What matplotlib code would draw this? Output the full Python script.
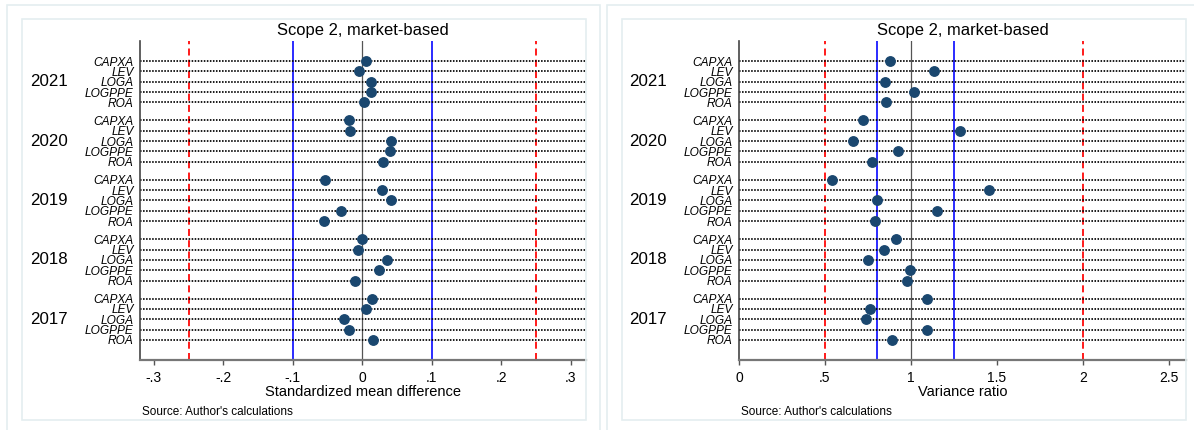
import matplotlib
matplotlib.use('Agg')
import matplotlib.pyplot as plt
from matplotlib.patches import Rectangle

plt.rcParams['font.family'] = 'Liberation Sans'

# Data
years = ['2021', '2020', '2019', '2018', '2017']
variables = ['CAPXA', 'LEV', 'LOGA', 'LOGPPE', 'ROA']

# Standardized mean difference, per year (order of variables)
smd_2021 = [0.006, -0.005, 0.013, 0.013, 0.002]
smd_2020 = [-0.019, -0.017, 0.041, 0.040, 0.030]
smd_2019 = [-0.053, 0.028, 0.042, -0.031, -0.055]
smd_2018 = [-0.001, -0.006, 0.036, 0.024, -0.010]
smd_2017 = [0.014, 0.006, -0.026, -0.019, 0.016]

# Variance ratio, per year
vr_2021 = [0.881, 1.134, 0.848, 1.018, 0.855]
vr_2020 = [0.722, 1.284, 0.663, 0.923, 0.775]
vr_2019 = [0.540, 1.452, 0.802, 1.154, 0.793]
vr_2018 = [0.914, 0.846, 0.749, 0.996, 0.980]
vr_2017 = [1.095, 0.760, 0.740, 1.095, 0.892]

smd_ticks = [-0.3, -0.2, -0.1, 0, 0.1, 0.2, 0.3]
smd_ticklabels = ['-.3', '-.2', '-.1', '0', '.1', '.2', '.3']
vr_ticks = [0, 0.5, 1, 1.5, 2, 2.5]
vr_ticklabels = ['0', '.5', '1', '1.5', '2', '2.5']

# Figure in pixel terms
W, H = 1194, 430
fig = plt.figure(figsize=(W / 100, H / 100), dpi=100)


def fx(px):
    return px / W


def fy(py):
    return 1 - py / H


# light frames (Stata graph region look)
frame_col = '#e4eef0'
for (x0, y0, x1, y1) in [(7, 5, 600, 440), (22, 19, 586, 420),
                         (607, 5, 1210, 440), (622, 19, 1186, 420)]:
    fig.patches.append(Rectangle((fx(x0), fy(y1)), fx(x1) - fx(x0), fy(y0) - fy(y1),
                                 transform=fig.transFigure, fill=False,
                                 edgecolor=frame_col, linewidth=1.2))

group_gap = 5.75
ypos = [[g * group_gap + j for j in range(len(variables))] for g in range(len(years))]
ymax = ypos[-1][-1]


def panel(left, right, values, xlim, ticks, ticklabels, ref_red, ref_blue, center, xlabel):
    ax = fig.add_axes([fx(left), fy(360), fx(right) - fx(left), (360 - 41) / H])
    ax.set_xlim(*xlim)
    ax.set_ylim(ymax + 1.94, -1.94)

    # reference lines
    for v in ref_red:
        ax.axvline(v, color='#ff1a1a', lw=1.4, linestyle=(0, (3.6, 2.2)), zorder=1)
    for v in ref_blue:
        ax.axvline(v, color='#1a1aff', lw=1.3, zorder=1)
    ax.axvline(center, color='#555555', lw=0.9, zorder=1)

    allpos = []
    for g, vals in enumerate(values):
        for j, v in enumerate(vals):
            y = ypos[g][j]
            allpos.append(y)
            ax.plot(xlim, [y, y], color='black', lw=1.25, linestyle=(0, (0.9, 0.85)), zorder=2)
            ax.plot(v, y, 'o', color='#1a476f', markersize=6.8, zorder=3)
        ax.annotate(years[g], xy=(0, ypos[g][2]), xycoords=('axes fraction', 'data'),
                    xytext=(-72, 0), textcoords='offset pixels',
                    ha='right', va='center', fontsize=12.2)

    ax.set_yticks(allpos)
    ax.set_yticklabels(variables * len(years), fontstyle='italic', fontsize=8.6)
    ax.tick_params(axis='y', length=0, pad=4.5)
    ax.set_xticks(ticks)
    ax.set_xticklabels(ticklabels, fontsize=10)
    ax.tick_params(axis='x', length=3.6, width=1.0, color='#555555', pad=4)

    for s in ['top', 'right']:
        ax.spines[s].set_visible(False)
    ax.spines['left'].set_color('#444444')
    ax.spines['bottom'].set_color('#777777')
    ax.spines['left'].set_linewidth(1.2)
    ax.spines['bottom'].set_linewidth(1.6)

    mid = (left + right) / 2
    fig.text(fx(mid), fy(30), 'Scope 2, market-based', ha='center', va='center', fontsize=11.9)
    fig.text(fx(mid), fy(392), xlabel, ha='center', va='center', fontsize=10.5)
    fig.text(fx(left + 2), fy(412), "Source: Author's calculations", ha='left', va='center', fontsize=8.5)
    return ax


panel(140, 586, [smd_2021, smd_2020, smd_2019, smd_2018, smd_2017], (-0.32, 0.322),
      smd_ticks, smd_ticklabels, [-0.25, 0.25], [-0.1, 0.1], 0, 'Standardized mean difference')
panel(739, 1186, [vr_2021, vr_2020, vr_2019, vr_2018, vr_2017], (0, 2.6),
      vr_ticks, vr_ticklabels, [0.5, 2.0], [0.8, 1.25], 1, 'Variance ratio')

fig.savefig('out.png', dpi=100)
